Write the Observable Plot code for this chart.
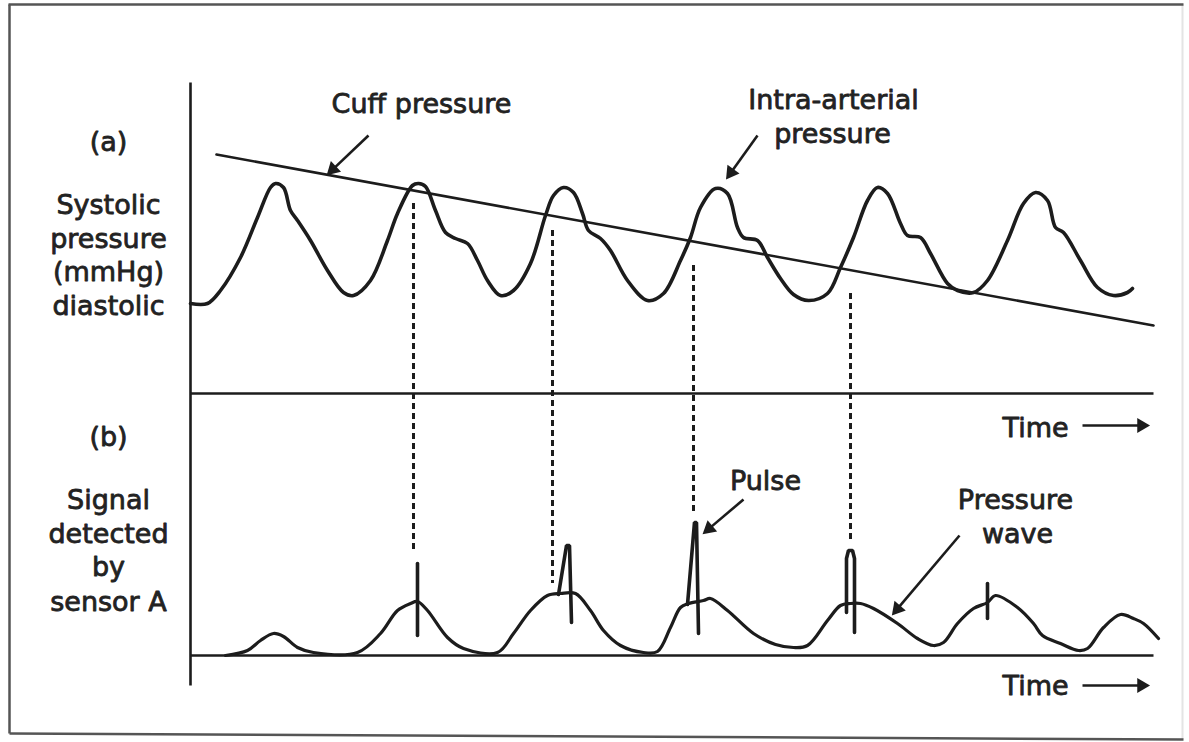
<!DOCTYPE html>
<html><head><meta charset="utf-8">
<script src="https://cdn.jsdelivr.net/npm/d3@7"></script>
<script src="https://cdn.jsdelivr.net/npm/@observablehq/plot@0.6"></script>
<style>html,body{margin:0;padding:0;background:#fff;} svg{display:block}</style>
</head><body><div id="chart"></div>
<script>
// Values: [time, level] in figure units (time grows right, level grows down)
const intraArterialWave = [
  [190,303],[207,303],[220,290],[240,257],[257,217],[270,187],[275,183],[283,187],[290,210],[297,220],[310,240],[327,270],[343,292],[353,295],[370,280],[387,240],[397,213],
  [412,185],[418,183],[425,186],[435,210],[445,232],[455,238],[467,243],[477,260],[487,280],[500,295],[513,290],[530,263],[545,215],[553,195],
  [563,187],[573,192],[582,213],[588,230],[600,238],[610,250],[627,280],[647,300],[663,293],[680,260],[690,237],[700,207],
  [715,188],[727,193],[737,227],[743,237],[757,240],[767,257],[780,278],[793,294],[808,300],[827,293],[840,267],[853,237],[867,200],
  [877,187],[887,193],[900,223],[907,235],[920,237],[930,253],[947,283],[957,290],[973,292],[987,280],[1007,240],[1023,203],
  [1035,192],[1047,200],[1055,227],[1063,232],[1080,260],[1097,287],[1113,295],[1127,292],[1132,288]
];
const cuffPressure = [[216,154],[1153,325]];

// Panel (b): signal detected by sensor A
const sensorWave = [
  [225,655],[247,650],[260,640],[273,633],[283,636],[297,647],[313,652],[357,652],[380,633],[397,610],[410,603],[417,601],
  [427,610],[447,637],[463,648],[497,652],[513,633],[530,610],[547,595],[560,593],[575,593],[590,610],[603,630],[620,645],[643,652],[657,651],
  [670,627],[680,607],[688,603],[703,600],[710,598],[727,610],[753,633],[775,644],[793,647],[807,645],[827,620],[840,605],[850,603],
  [860,603],[873,608],[897,623],[917,638],[933,645],[943,642],[957,623],[973,608],[987,602],[995,595],[1017,607],[1033,623],[1042,635],
  [1060,643],[1078,650],[1087,648],[1103,627],[1120,614],[1133,618],[1143,623],[1158,638]
];
const pulseSpikes = [
  {id:1, pts:[[417,563],[417,635]]},
  {id:2, pts:[[558,594],[566,545],[569,545],[571,622]]},
  {id:3, pts:[[687,604],[694,522],[696,522],[698,633]]},
  {id:4, pts:[[846,612],[846,558],[848,550],[852,550],[854,558],[854,632]]},
  {id:5, pts:[[987,583],[987,618]]}
];
// Dashed guides: where cuff pressure meets the wave, down to the pulse
const guideTime = [413, 552, 693, 850];
const guideTop = [203, 230, 265, 293];
const guideBottom = [553, 583, 514, 540];

// Axes
const axisLines = [
  {x1:190, y1:82, x2:190, y2:685},
  {x1:190, y1:393, x2:1153, y2:393},
  {x1:190, y1:655, x2:1153, y2:655}
];
const frameLines = [
  {x1:8, y1:4, x2:1183, y2:4},
  {x1:9, y1:4, x2:9, y2:733},
  {x1:9, y1:733, x2:1183, y2:739}
];
const frameRight = [{x1:1182, y1:4, x2:1182, y2:739}];

// Labels
const leftLabels = ["(a)", "Systolic", "pressure", "(mmHg)", "diastolic", "(b)", "Signal", "detected", "by", "sensor A"];
const leftLabelLevel = [150, 213, 247, 280, 314, 445, 508, 542, 575, 610];
const noteLabels = ["Cuff pressure", "Intra-arterial", "pressure", "Pulse", "Pressure", "wave", "Time", "Time"];
const noteTime = [421, 833, 832, 765, 1015, 1017, 1035, 1035];
const noteLevel = [112, 108, 142, 489, 508, 542, 436, 694];
const arrows = [
  {x1:368, y1:135, x2:328, y2:173},
  {x1:757, y1:135, x2:727, y2:177},
  {x1:743, y1:499, x2:704, y2:532},
  {x1:959, y1:535, x2:893, y2:613},
  {x1:1082, y1:425, x2:1147, y2:425},
  {x1:1082, y1:685, x2:1147, y2:685}
];

const ink = "#1c1c1c";
const textInk = "#222";
const font = "DejaVu Sans";
const headBack = 6;

const leftData = leftLabels.map((t,i)=>({t, y: leftLabelLevel[i]}));
const noteData = noteLabels.map((t,i)=>({t, x: noteTime[i], y: noteLevel[i]}));
const guides = guideTime.map((x,i)=>({x, y1: guideTop[i], y2: guideBottom[i]}));
const spikeRows = pulseSpikes.flatMap(s => s.pts.map(p => ({id:s.id, x:p[0], y:p[1]})));
const arrowHeads = arrows.map(a => {
  const dx = a.x2 - a.x1, dy = a.y2 - a.y1, L = Math.hypot(dx, dy);
  return {x: a.x2 - dx / L * headBack, y: a.y2 - dy / L * headBack, angle: Math.atan2(dx, -dy) * 180 / Math.PI};
});
const arrowShafts = arrows.map(a => {
  const dx = a.x2 - a.x1, dy = a.y2 - a.y1, L = Math.hypot(dx, dy);
  return {x1: a.x1, y1: a.y1, x2: a.x2 - dx / L * headBack, y2: a.y2 - dy / L * headBack};
});

const chart = Plot.plot({
  width: 1189, height: 742,
  marginTop: 0, marginRight: 0, marginBottom: 0, marginLeft: 0,
  x: {domain: [0, 1189], range: [0, 1189], axis: null},
  y: {domain: [0, 742], range: [0, 742], axis: null},
  style: {background: "#fff", fontFamily: font},
  marks: [
    Plot.link(frameRight, {x1:"x1", y1:"y1", x2:"x2", y2:"y2", stroke: "#e4e4e4", strokeWidth: 2}),
    Plot.link(frameLines, {x1:"x1", y1:"y1", x2:"x2", y2:"y2", stroke: "#555", strokeWidth: 2.5}),
    Plot.link(axisLines, {x1:"x1", y1:"y1", x2:"x2", y2:"y2", stroke: ink, strokeWidth: 2.6}),
    Plot.ruleX(guides, {x:"x", y1:"y1", y2:"y2", stroke: ink, strokeWidth: 3, strokeDasharray: "6,4"}),
    Plot.line(cuffPressure, {x: d=>d[0], y: d=>d[1], stroke: ink, strokeWidth: 2.6}),
    Plot.line(intraArterialWave, {x: d=>d[0], y: d=>d[1], curve: "catmull-rom", stroke: ink, strokeWidth: 3.6}),
    Plot.line(sensorWave, {x: d=>d[0], y: d=>d[1], curve: "catmull-rom", stroke: ink, strokeWidth: 3.2}),
    Plot.line(spikeRows, {x:"x", y:"y", z:"id", stroke: ink, strokeWidth: 3.6, strokeLinejoin: "miter"}),
    Plot.link(arrowShafts, {x1:"x1", y1:"y1", x2:"x2", y2:"y2", stroke: ink, strokeWidth: 2.6}),
    Plot.dot(arrowHeads, {x:"x", y:"y", rotate:"angle", symbol: "triangle", r: 5.5, fill: ink, stroke: "none"}),
    Plot.text(leftData, {x: () => 108, y: "y", text: "t", textAnchor: "middle", lineAnchor: "bottom", fontSize: 27, fill: textInk, stroke: textInk, strokeWidth: 0.8}),
    Plot.text(noteData, {x: "x", y: "y", text: "t", textAnchor: "middle", lineAnchor: "bottom", fontSize: 27, fill: textInk, stroke: textInk, strokeWidth: 0.8})
  ]
});
document.getElementById("chart").append(chart);
</script>
</body></html>
